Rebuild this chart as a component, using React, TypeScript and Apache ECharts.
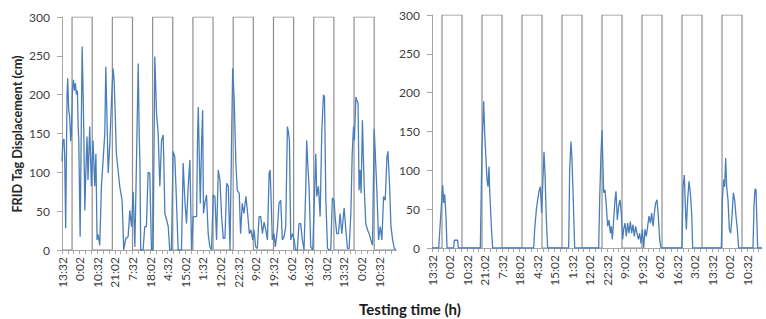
import React, { useEffect, useRef } from "react";
import * as echarts from "echarts";

// Clock labels every 10.5 h starting at 13:32
const timeLabels = ["13:32","0:02","10:32","21:02","7:32","18:02","4:32","15:02","1:32","12:02","22:32","9:02","19:32","6:02","16:32","3:02","13:32","0:02","10:32"];
const labelStep = 10.5;
const tickStep = 3.5;

// Dark (lights-off) periods: start hour and duration
const darkStarts = [6, 30, 54, 78, 102, 126, 150, 174];
const darkLength = 12;

// Left panel: hours since start, displacement (cm)
const leftTime = [0,0.5,1.2,1.6,2.2,3.0,3.4,4.0,4.6,5.2,5.6,6.2,6.8,7.4,8.0,8.6,9.2,9.6,10.0,10.8,12.0,12.6,13.0,13.6,14.2,14.9,15.5,16.5,17.5,18.5,19.5,20.2,20.9,21.5,22.5,23.5,24.5,25.5,26.1,27.0,27.5,28.5,29.5,30.4,31.0,31.4,32.4,33.4,34.4,35.8,36.8,38.0,39.4,40.4,41.4,42.4,43.4,44.4,45.4,46.0,46.4,46.9,48.3,49.3,50.3,51.3,52.3,53.3,54.3,55.3,56.3,57.3,58.3,59.3,60.3,61.3,62.3,63.3,64.2,65.2,66.2,67.2,68.2,69.2,71.2,72.2,73.2,74.2,75.2,76.2,77.2,78.2,80.2,80.8,81.2,81.8,82.4,83.2,83.8,84.3,85.1,86.1,87.1,88.1,89.1,90.1,91.1,92.1,93.1,94.1,95.1,96.1,97.1,98.1,99.1,100.1,101.1,101.7,102.6,103.6,104.4,105.6,106.4,107.4,108.4,109.6,110.6,111.6,112.6,113.6,114.4,115.4,116.4,117.4,118.4,119.4,120.4,121.4,122.4,123.4,124.0,124.5,125.3,126.3,127.1,128.3,129.3,130.3,131.3,132.3,133.3,134.3,134.9,135.5,136.3,137.3,138.3,139.2,140.2,141.2,142.2,143.2,144.2,145.2,145.8,146.6,147.2,148.2,149.4,150.4,151.2,151.8,152.8,153.8,154.8,155.8,156.4,157.2,158.2,159.2,160.1,161.1,162.1,162.7,163.7,164.7,165.7,166.7,168.1,169.1,170.1,171.1,172.1,172.9,173.7,174.2,175.1,175.6,176.4,177.0,177.6,178.2,179.0,179.6,180.2,181.0,182.0,183.0,184.0,185.0,186.0,187.0,187.6,188.6,189.6,190.6,191.6,192.6,193.6,194.2,195.2,196.0,197.0,198.0,199.0];
const leftDisp = [114,140,143,120,28,200,221,180,171,140,150,205,219,205,215,200,205,160,141,17,262,200,150,51,100,146,90,159,82,141,82,124,13,20,6,82,116,150,236,150,99,137,193,234,220,197,124,103,82,64,0,15,17,51,30,75,4,116,240,150,116,0,0,30,30,100,99,0,0,249,176,150,82,141,148,47,39,30,0,0,127,120,64,0,0,112,64,34,82,116,0,43,43,150,184,120,60,140,180,47,60,71,21,4,0,71,69,13,103,90,43,15,15,86,82,0,150,234,193,112,77,73,21,60,47,69,47,21,26,13,26,4,2,43,43,21,36,26,13,99,103,73,13,21,4,26,60,64,13,17,30,159,152,141,13,21,13,0,0,34,34,13,0,77,141,103,82,4,0,69,124,69,82,43,154,200,197,64,2,0,0,67,64,43,21,21,47,21,54,26,2,2,47,124,159,141,197,193,189,77,103,73,167,116,73,34,26,21,13,6,156,107,77,13,30,13,69,64,120,127,82,30,13,2,0];

// Right panel: hours since start, displacement (cm)
const rightTime = [0,4.0,4.6,5.6,6.4,7.0,7.6,8.4,9.0,13.0,13.4,15.4,15.8,29.0,30.0,31.0,31.6,32.4,33.0,33.6,34.2,34.6,35.6,36.4,61.0,61.6,62.6,63.4,64.2,65.0,65.8,66.4,67.2,67.8,68.6,69.4,82.0,82.6,83.4,84.0,85.0,85.6,100.0,100.6,101.4,102.0,102.6,103.0,103.8,104.6,105.4,106.2,107.0,107.6,108.2,109.0,109.8,110.4,111.2,112.0,112.8,113.6,114.4,115.0,115.8,116.6,117.4,118.2,119.0,119.8,120.6,121.4,122.2,123.0,123.8,124.6,125.4,126.2,127.0,127.8,128.6,129.4,130.2,131.0,131.8,132.6,133.4,134.2,135.0,135.8,136.6,137.4,150.0,150.6,151.4,152.0,152.6,153.4,154.2,155.0,155.8,156.4,173.6,174.2,175.0,175.6,176.2,176.8,177.6,178.4,179.2,180.0,180.8,181.6,182.4,183.2,184.0,192.6,193.2,193.8,194.4,195.0,195.4,198.0];
const rightDisp = [0,0,20,54,81,58,69,41,0,0,10,10,0,0,131,189,148,114,88,79,105,75,28,0,0,24,49,62,73,79,45,79,124,96,36,0,0,101,137,114,45,0,0,62,122,152,105,71,75,54,28,36,19,28,11,36,62,73,36,54,62,45,11,24,32,15,32,19,34,19,30,15,28,19,11,19,6,24,0,24,15,28,41,32,45,28,45,58,62,41,11,0,0,79,94,54,24,62,86,71,45,0,0,62,88,79,116,79,62,24,19,41,71,62,41,24,0,0,54,76,75,28,0,0];

const yTicks = { min: 0, max: 300, interval: 50 };
const leftMax = 199;
const rightMax = 198;

const FONT = "Lato, 'Liberation Sans', sans-serif";

function pairs(t: number[], v: number[]) {
  return t.map((x, i) => [x, v[i]]);
}
function squareWave(max: number) {
  const pts: number[][] = [[0, 0]];
  darkStarts.forEach((s) => {
    const e = s + darkLength;
    if (s > max) return;
    pts.push([s, 0], [s, yTicks.max], [Math.min(e, max), yTicks.max]);
    if (e <= max) pts.push([e, 0]);
  });
  pts.push([max, 0]);
  return pts;
}
function labelValues(max: number) {
  return timeLabels.map((_, i) => i * labelStep).filter((v) => v <= max);
}
function tickValues(max: number) {
  const out: number[] = [];
  for (let v = 0; v <= max + 1e-6; v += tickStep) out.push(Math.round(v * 10) / 10);
  return out;
}

function xAxis(gridIndex: number, max: number) {
  return {
    type: "value",
    gridIndex,
    min: 0,
    max,
    splitLine: { show: false },
    axisLine: { show: true, lineStyle: { color: "#a6a6a6", width: 1 } },
    axisTick: { show: true, customValues: tickValues(max), length: 4, lineStyle: { color: "#a6a6a6" } },
    axisLabel: {
      show: true,
      customValues: labelValues(max),
      rotate: 90,
      margin: 7,
      color: "#404040",
      fontSize: 12,
      fontFamily: FONT,
      formatter: (v: number) => timeLabels[Math.round(v / labelStep)] ?? "",
    },
  };
}
function yAxis(gridIndex: number) {
  return {
    type: "value",
    gridIndex,
    min: yTicks.min,
    max: yTicks.max,
    interval: yTicks.interval,
    splitLine: { show: false },
    axisLine: { show: true, lineStyle: { color: "#a6a6a6", width: 1 } },
    axisTick: { show: true, length: 5, lineStyle: { color: "#a6a6a6" } },
    axisLabel: { margin: 12, color: "#404040", fontSize: 12, fontFamily: FONT },
  };
}

export default function App() {
  const ref = useRef<HTMLDivElement>(null);
  useEffect(() => {
    if (!ref.current) return;
    const chart = echarts.init(ref.current, null, { renderer: "svg" });
    chart.setOption({
      animation: false,
      backgroundColor: "#ffffff",
      grid: [
        { left: 62, top: 17, width: 334, height: 233 },
        { left: 432, top: 15, width: 330, height: 233 },
      ],
      xAxis: [xAxis(0, leftMax), xAxis(1, rightMax)],
      yAxis: [yAxis(0), yAxis(1)],
      graphic: [
        {
          type: "text",
          x: 17,
          y: 134,
          rotation: Math.PI / 2,
          style: {
            text: "FRID Tag Displacement (cm)",
            fontFamily: FONT,
            fontWeight: "bold",
            fontSize: 12.7,
            fill: "#262626",
            align: "center",
            verticalAlign: "middle",
          },
        },
        {
          type: "text",
          x: 410,
          y: 309,
          style: {
            text: "Testing time (h)",
            fontFamily: FONT,
            fontWeight: "bold",
            fontSize: 15,
            fill: "#1a1a1a",
            align: "center",
            verticalAlign: "middle",
          },
        },
      ],
      series: [
        {
          type: "line",
          xAxisIndex: 0,
          yAxisIndex: 0,
          data: squareWave(leftMax),
          symbol: "none",
          lineStyle: { color: "#8f8f8f", width: 1.2 },
          z: 1,
        },
        {
          type: "line",
          xAxisIndex: 0,
          yAxisIndex: 0,
          data: pairs(leftTime, leftDisp),
          symbol: "none",
          lineStyle: { color: "#4a7ebb", width: 1.3 },
          z: 2,
        },
        {
          type: "line",
          xAxisIndex: 1,
          yAxisIndex: 1,
          data: squareWave(rightMax),
          symbol: "none",
          lineStyle: { color: "#8f8f8f", width: 1.2 },
          z: 1,
        },
        {
          type: "line",
          xAxisIndex: 1,
          yAxisIndex: 1,
          data: pairs(rightTime, rightDisp),
          symbol: "none",
          lineStyle: { color: "#4a7ebb", width: 1.3 },
          z: 2,
        },
      ],
    });
    return () => chart.dispose();
  }, []);
  return <div ref={ref} style={{ width: 766, height: 319, position: "absolute", left: 0, top: 0 }} />;
}
